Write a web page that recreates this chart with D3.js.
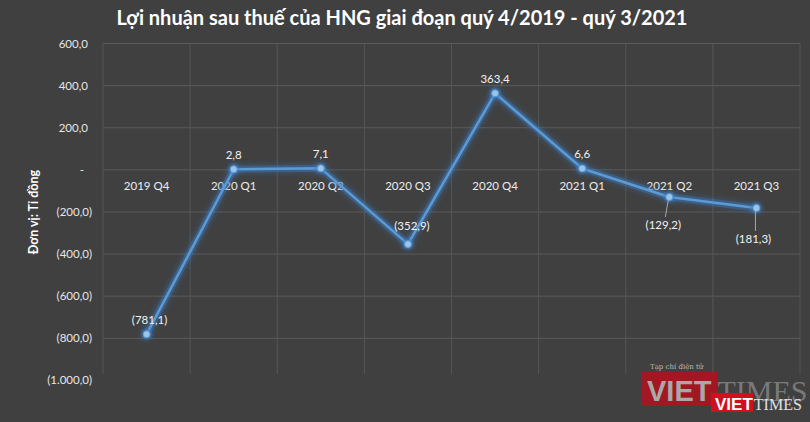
<!DOCTYPE html>
<html><head><meta charset="utf-8">
<script src="https://cdn.jsdelivr.net/npm/d3@7"></script>
<style>body{margin:0;background:#404040;}svg{display:block;}</style>
</head><body><svg id="c" width="810" height="422"></svg>
<script>
const categories = ["2019 Q4","2020 Q1","2020 Q2","2020 Q3","2020 Q4","2021 Q1","2021 Q2","2021 Q3"];
const values = [-781.1, 2.8, 7.1, -352.9, 363.4, 6.6, -129.2, -181.3];
const yTicks = [600, 400, 200, 0, -200, -400, -600, -800, -1000];
const title = "Lợi nhuận sau thuế của HNG giai đoạn quý 4/2019 - quý 3/2021";
const yLabel = "Đơn vị: Tỉ đồng";

const svg = d3.select("#c");
const font = "Lato, 'Open Sans', sans-serif";
svg.append("rect").attr("width",810).attr("height",422).attr("fill","#404040");

const x = d3.scaleBand().domain(categories).range([103, 800]);
const y = d3.scaleLinear().domain([-1000, 600]).range([380.4, 43.5]);

const g = svg.append("g");
g.selectAll("line.h").data(yTicks.filter(t => t > -1000)).join("line")
  .attr("x1",103).attr("x2",800).attr("y1",d=>y(d)).attr("y2",d=>y(d))
  .attr("stroke","#5a5a5a").attr("stroke-width",1);
const vx = categories.map(c => x(c)).concat([x.range()[1]]);
g.selectAll("line.v").data(vx).join("line")
  .attr("x1",d=>d).attr("x2",d=>d).attr("y1",y(600)).attr("y2",374)
  .attr("stroke","#555555").attr("stroke-width",1);

const fmtNum = v => {
  if (v === 0) return "-";
  const s = d3.format(",.1f")(Math.abs(v)).replace(/,/g,"#").replace(".",",").replace(/#/g,".");
  return v < 0 ? "(" + s + ")" : s;
};
svg.selectAll("text.yt").data(yTicks).join("text")
  .attr("x", d => d < 0 ? 92 : (d === 0 ? 84 : 88))
  .attr("y", d => y(d) + 4)
  .attr("text-anchor","end").attr("fill","#e6e6e6")
  .attr("font-family",font).attr("font-size",11.5)
  .text(fmtNum);

svg.selectAll("text.xc").data(categories).join("text")
  .attr("x", d => x(d) + x.bandwidth()/2).attr("y", 190)
  .attr("text-anchor","middle").attr("fill","#ececec")
  .attr("font-family",font).attr("font-size",11.5)
  .text(d => d);

const defs = svg.append("defs");
const f = defs.append("filter").attr("id","glow").attr("x","-20%").attr("y","-20%").attr("width","140%").attr("height","140%");
f.append("feGaussianBlur").attr("stdDeviation",3).attr("result","b");
const fm = f.append("feMerge");
fm.append("feMergeNode").attr("in","b");
fm.append("feMergeNode").attr("in","SourceGraphic");

const cx = d => x(d) + x.bandwidth()/2;
const pts = categories.map((c,i) => [cx(c), y(values[i])]);

const line = d3.line();
svg.append("path").attr("d", line(pts)).attr("fill","none")
  .attr("stroke","#3d7fc9").attr("stroke-width",7).attr("stroke-opacity",0.35)
  .attr("filter","url(#glow)");
svg.append("path").attr("d", line(pts)).attr("fill","none")
  .attr("stroke","#5b9bd5").attr("stroke-width",2.5).attr("stroke-linejoin","round");

svg.selectAll("circle.g").data(pts).join("circle")
  .attr("cx",d=>d[0]).attr("cy",d=>d[1]).attr("r",6)
  .attr("fill","#3d7fc9").attr("fill-opacity",0.35).attr("filter","url(#glow)");
svg.selectAll("circle.p").data(pts).join("circle")
  .attr("cx",d=>d[0]).attr("cy",d=>d[1]).attr("r",3.5)
  .attr("fill","#9cc3e8").attr("stroke","#5b9bd5").attr("stroke-width",1);

const lblOff = [[3,-14],[0,-14],[0,-14],[4,-18],[0,-14],[0,-14],[-6,28],[-3,31]];
svg.selectAll("text.dl").data(values).join("text")
  .attr("x",(d,i)=>pts[i][0]+lblOff[i][0]).attr("y",(d,i)=>pts[i][1]+lblOff[i][1]+4)
  .attr("text-anchor","middle").attr("fill","#f2f2f2")
  .attr("font-family",font).attr("font-size",11.5)
  .text(v => fmtNum(v));
[6,7].forEach(i => {
  svg.append("line").attr("x1",pts[i][0]-1).attr("y1",pts[i][1]+3)
    .attr("x2",pts[i][0]+lblOff[i][0]+2).attr("y2",pts[i][1]+lblOff[i][1]-8)
    .attr("stroke","#a6a6a6").attr("stroke-width",1);
});

svg.append("text").attr("x",402).attr("y",25).attr("text-anchor","middle")
  .attr("fill","#ffffff").attr("font-family",font).attr("font-weight","bold")
  .attr("font-size",20).text(title);

svg.append("text").attr("transform","translate(38,212) rotate(-90)")
  .attr("text-anchor","middle").attr("fill","#ffffff").attr("font-family",font)
  .attr("font-weight","bold").attr("font-size",12.5).text(yLabel);

// watermark
const wm = svg.append("g");
wm.append("text").attr("x",650).attr("y",369).attr("fill","#bdbdbd").attr("font-family","'DejaVu Serif',serif").attr("font-size",7).text("Tạp chí điện tử");
wm.append("rect").attr("x",641).attr("y",372).attr("width",76).attr("height",34).attr("fill","#b3121f").attr("opacity",0.85);
const big = wm.append("text").attr("x",647).attr("y",401);
big.append("tspan").attr("fill","#a9a9a9").attr("font-family","'Liberation Sans',sans-serif").attr("font-weight","bold").attr("font-size",29).text("VIET");
big.append("tspan").attr("dx",6).attr("fill","#8a8a8a").attr("font-family","'Liberation Serif',serif").attr("font-size",30).attr("fill-opacity",0.8).text("TIMES");
wm.append("rect").attr("x",711).attr("y",393).attr("width",42).attr("height",19).attr("fill","#d0101e");
const small = wm.append("text").attr("x",715).attr("y",410);
small.append("tspan").attr("fill","#ffffff").attr("font-family","'Liberation Sans',sans-serif").attr("font-weight","bold").attr("font-size",17).text("VIET");
small.append("tspan").attr("dx",1).attr("fill","#e0e0e0").attr("font-family","'Liberation Serif',serif").attr("font-size",16).text("TIMES");
</script></body></html>
